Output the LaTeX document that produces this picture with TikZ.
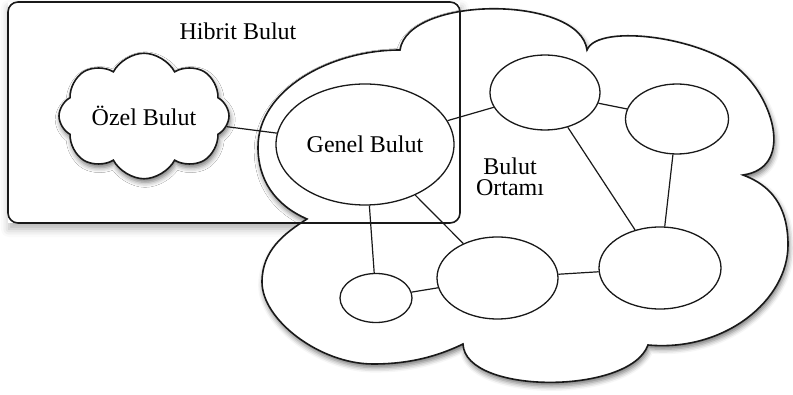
\documentclass[tikz,border=0pt]{standalone}
\usepackage{fontspec}
\setmainfont{Liberation Serif}
\usetikzlibrary{shapes.geometric,shapes.symbols,shadows.blur}
\definecolor{LineClr}{rgb}{0.1,0.1,0.1}

\tikzset{
  softshadow/.style={blur shadow={shadow xshift=0.6pt,shadow yshift=-1.8pt,
    shadow blur radius=2.5pt,shadow opacity=55}},
  boxshadow/.style={blur shadow={shadow xshift=0.5pt,shadow yshift=-3pt,
    shadow blur radius=4pt,shadow opacity=30}},
  hybridframe/.style={draw=LineClr,line width=0.8pt,rounded corners=5pt},
  cloudline/.style={draw=LineClr,line width=0.8pt,fill=white},
  site/.style={ellipse,draw=LineClr,line width=0.65pt,fill=white,inner sep=0pt},
  link/.style={draw=LineClr,line width=0.6pt},
  lbl/.style={font=\fontsize{12}{10.5}\selectfont,align=center}
}

\begin{document}
\begin{tikzpicture}[x=0.5pt,y=-0.5pt]
\useasboundingbox (0,0) rectangle (793,395);

\fill[white,boxshadow] (8,2) rectangle (460,223);

\node[cloud,cloud puffs=8,cloud puff arc=125,aspect=1.5,draw=LineClr,line width=0.8pt,fill=white,
  minimum width=85pt,minimum height=56pt,inner sep=0pt,softshadow,lbl]
  (ozel) at (144,116) {Özel Bulut};

\path[cloudline,softshadow] (400,50)
  .. controls (408,-5) and (580,-5) .. (587,50)
  .. controls (598,22) and (712,38) .. (745,75)
  .. controls (775,105) and (792,168) .. (743,175)
  .. controls (770,185) and (788,205) .. (788,245)
  .. controls (788,300) and (725,352) .. (648,345)
  .. controls (630,395) and (465,395) .. (463,344)
  .. controls (430,360) and (400,364) .. (373,364)
  .. controls (320,364) and (262,320) .. (262,282)
  .. controls (262,250) and (285,233) .. (307,219)
  .. controls (275,205) and (258,180) .. (258,147)
  .. controls (258,90) and (330,50) .. (400,50) -- cycle;

\draw[hybridframe] (8,2) rectangle (460,223);
\node[lbl] (hibrit) at (238,31) {Hibrit Bulut};
\node[lbl] (ortam) at (510,177) {Bulut\\Ortamı};

\node[site,minimum width=89pt,minimum height=60.5pt,lbl] (genel) at (365,144.5) {Genel Bulut};
\node[site,minimum width=55pt,minimum height=37.5pt] (n1) at (545,92.5) {};
\node[site,minimum width=51.5pt,minimum height=35pt] (n2) at (677,119) {};
\node[site,minimum width=61pt,minimum height=41pt] (n3) at (660,268) {};
\node[site,minimum width=60.5pt,minimum height=41pt] (n4) at (497.5,278) {};
\node[site,minimum width=36pt,minimum height=24.5pt] (n5) at (376,298) {};

\draw[link] (ozel) -- (genel);
\draw[link] (genel) -- (n1);
\draw[link] (genel) -- (n4);
\draw[link] (genel) -- (n5);
\draw[link] (n1) -- (n2);
\draw[link] (n1) -- (n3);
\draw[link] (n2) -- (n3);
\draw[link] (n3) -- (n4);
\draw[link] (n4) -- (n5);

\end{tikzpicture}
\end{document}
